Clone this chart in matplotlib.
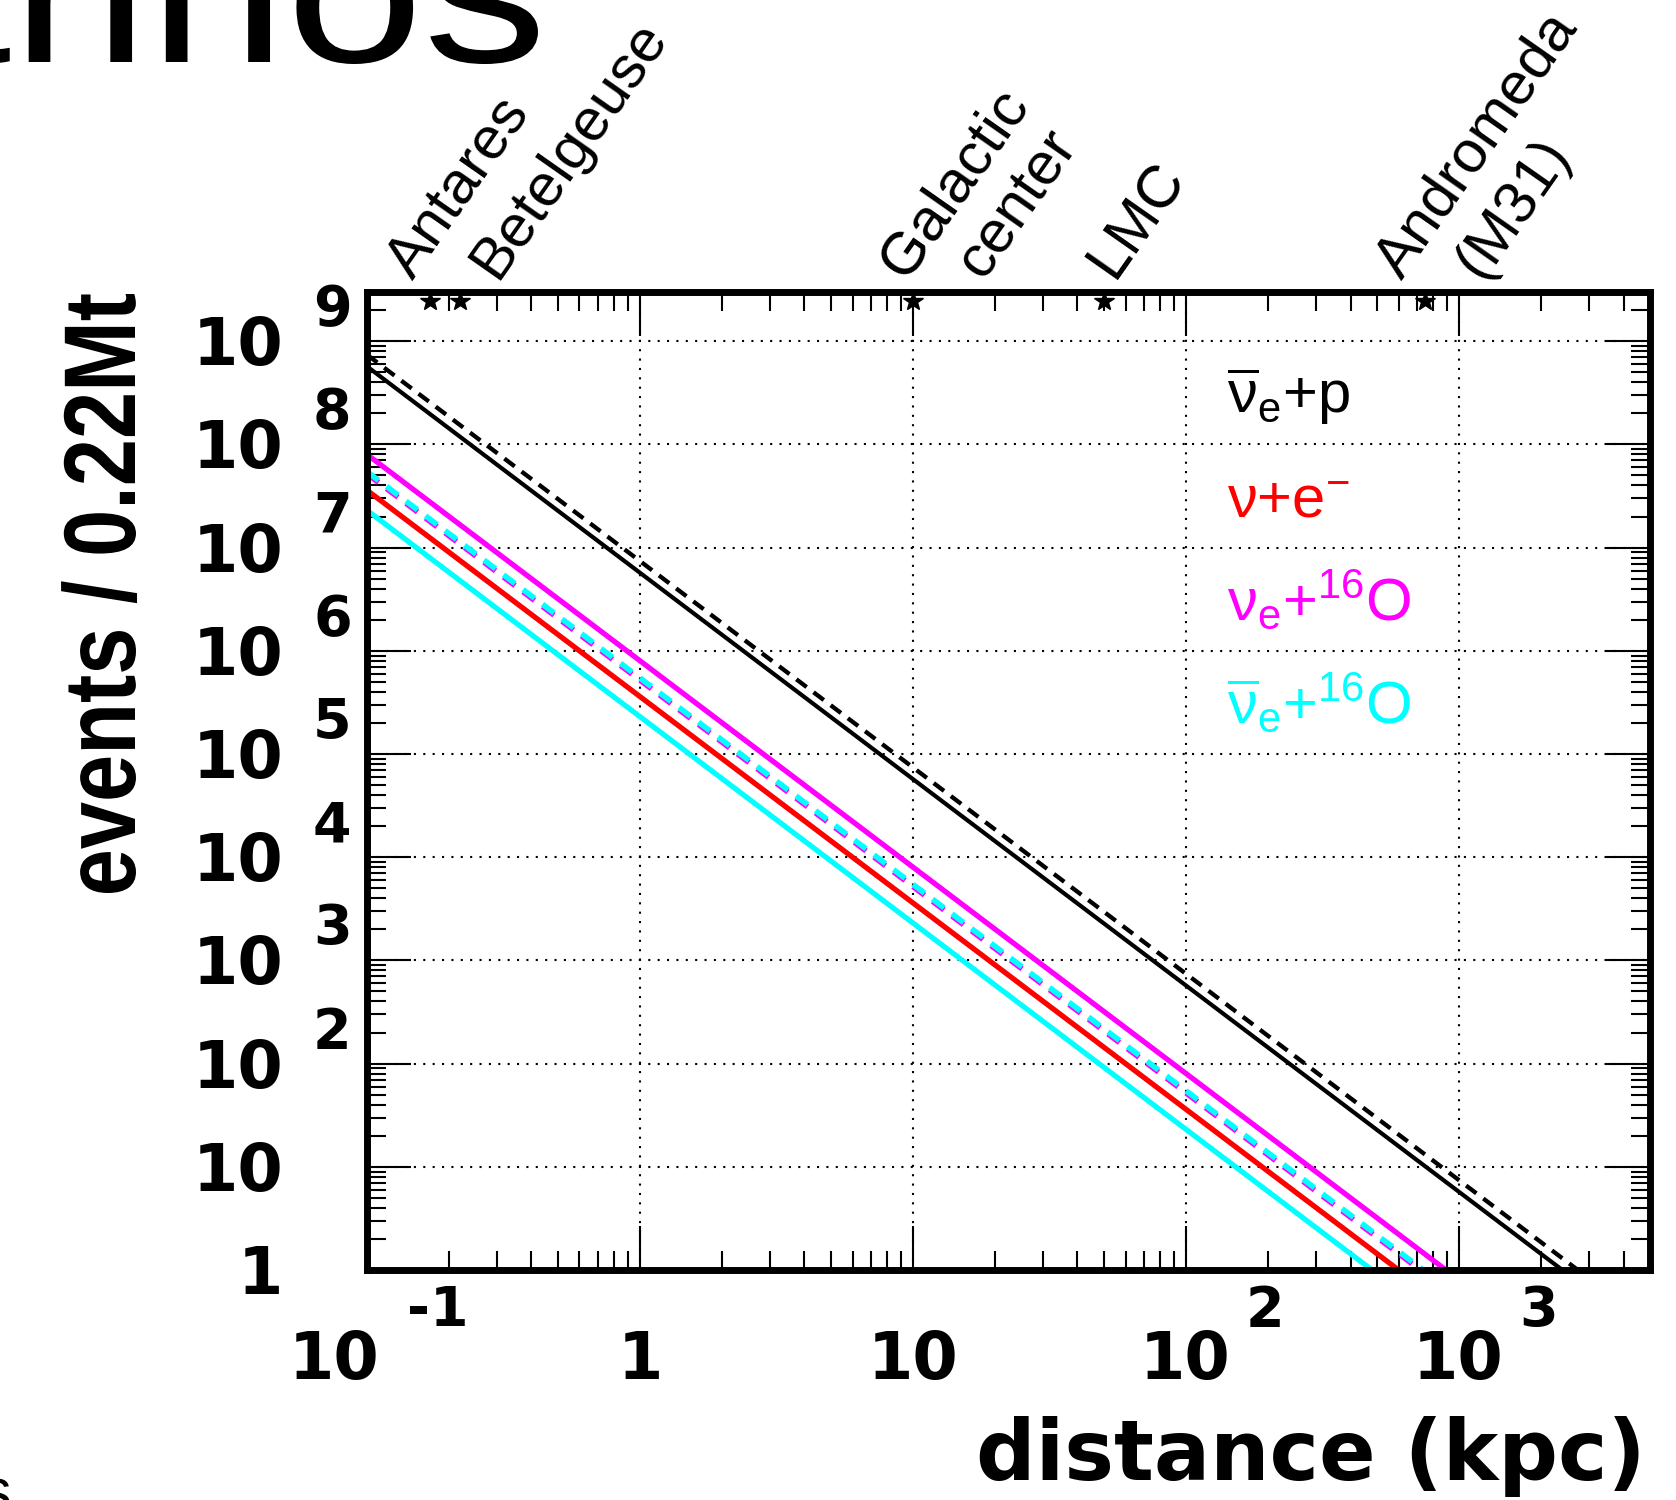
import numpy as np
import matplotlib
matplotlib.use("Agg")
import matplotlib.pyplot as plt
import matplotlib.transforms as mtransforms
from matplotlib.ticker import LogLocator, NullFormatter
from matplotlib.textpath import TextPath
from matplotlib.patches import PathPatch
from matplotlib.font_manager import FontProperties

plt.rcParams['font.family'] = ['Liberation Sans', 'DejaVu Sans']
plt.rcParams['mathtext.fontset'] = 'custom'
plt.rcParams['mathtext.rm'] = 'Liberation Sans'
plt.rcParams['mathtext.it'] = 'Liberation Sans:italic'
plt.rcParams['mathtext.bf'] = 'Liberation Sans:bold'

# distance from the supernova (kpc)
distance = [0.1, 1, 10, 100, 1000, 5000]

# expected events in 0.22 Mt fiducial volume
ibd = [5.7e8, 5.7e6, 5.7e4, 5.7e2, 5.7, 0.228]
ibd_osc = [7.4e8, 7.4e6, 7.4e4, 7.4e2, 7.4, 0.296]
nue_oxygen = [8.0e7, 8.0e5, 8.0e3, 80, 0.8, 0.032]
nue_oxygen_osc = [5.2e7, 5.2e5, 5.2e3, 52, 0.52, 0.0208]
nuebar_oxygen_osc = [5.45e7, 5.45e5, 5.45e3, 54.5, 0.545, 0.0218]
elastic = [3.6e7, 3.6e5, 3.6e3, 36, 0.36, 0.0144]
nuebar_oxygen = [2.3e7, 2.3e5, 2.3e3, 23, 0.23, 0.0092]

# known sources marked on the top axis
source_names = ["Antares", "Betelgeuse", "Galactic\ncenter", "LMC", "Andromeda\n(M31)"]
source_dist = [0.17, 0.22, 10, 50, 750]

legend_labels = [r'$\overline{\mathrm{\nu}}_{\mathrm{e}}\mathrm{{+}p}$',
                 r'$\mathrm{\nu{+}e^{-}}$',
                 r'$\mathrm{\nu_{e}{+}^{16}O}$',
                 r'$\overline{\mathrm{\nu}}_{\mathrm{e}}\mathrm{{+}^{16}O}$']
legend_colors = ['black', 'red', 'magenta', 'cyan']

x_decades = [-1, 0, 1, 2, 3]
y_decades = list(range(10))

W, H = 1676, 1500
fig = plt.figure(figsize=(W / 100, H / 100), dpi=100)
left, right, top, bottom = 367, 1650, 292, 1270
ax = fig.add_axes([left / W, 1 - bottom / H, (right - left) / W, (bottom - top) / H])
ax.set_xscale('log')
ax.set_yscale('log')
ax.set_xlim(0.1, 5000)
ax.set_ylim(1, 3e9)

dash = (3.0, 2.0)
ax.plot(distance, ibd_osc, color='black', lw=3.1, dashes=dash)
ax.plot(distance, ibd, color='black', lw=3.0)
ax.plot(distance, nue_oxygen, color='magenta', lw=3.8)
ax.plot(distance, nue_oxygen_osc, color='magenta', lw=4.0, dashes=(2.6, 1.8))
ax.plot(distance, nuebar_oxygen_osc, color='cyan', lw=4.0, dashes=(2.6, 1.8))
ax.plot(distance, elastic, color='red', lw=3.8)
ax.plot(distance, nuebar_oxygen, color='cyan', lw=3.8)

# ROOT-like frame, ticks and grid
for s in ax.spines.values():
    s.set_linewidth(5)
for axis in (ax.xaxis, ax.yaxis):
    axis.set_major_locator(LogLocator(base=10, numticks=20))
    axis.set_minor_locator(LogLocator(base=10, subs=np.arange(2, 10), numticks=20))
    axis.set_major_formatter(NullFormatter())
    axis.set_minor_formatter(NullFormatter())
ax.tick_params(which='major', direction='in', length=32, width=1.5,
               top=True, right=True)
ax.tick_params(which='minor', direction='in', length=13.5, width=1.5,
               top=True, right=True)
ax.grid(True, which='major', color='black', linestyle=(0, (1, 3.5)), linewidth=1.5)


def shifted(trans, dx, dy):
    return mtransforms.offset_copy(trans, fig=fig, x=dx, y=dy, units='dots')


def path_text(s, prop, sx, sy, x_right, y_base, rotation=0):
    # text outline scaled separately along and across the baseline, in pixels
    tp = TextPath((0, 0), s, size=1, prop=prop)
    ext = tp.get_extents()
    if sx is None:
        sx = sy
    elif sx < 0:
        sx = -sx / (ext.x1 - ext.x0)
    tr = (mtransforms.Affine2D().translate(-ext.x1, 0).scale(sx, sy)
          .rotate_deg(rotation).translate(x_right, H - y_base))
    fig.add_artist(PathPatch(tp, transform=tr, facecolor='black', lw=0))


xtrans = mtransforms.blended_transform_factory(ax.transData, ax.transAxes)
ytrans = mtransforms.blended_transform_factory(ax.transAxes, ax.transData)
tick_font = dict(family='DejaVu Sans', weight='bold')

# y tick labels written as 10 + raised exponent
for k in y_decades:
    v = 10.0 ** k
    base = '1' if k == 0 else '10'
    ax.text(0, v, base, transform=shifted(ytrans, -84, -24), ha='right',
            va='baseline', fontsize=47, **tick_font)
    if k >= 2:
        ax.text(0, v, str(k), transform=shifted(ytrans, -54, 16), ha='left',
                va='baseline', fontsize=40, **tick_font)

# x tick labels
x_shift = {-1: (12, 40), 2: (44, 60), 3: (44, 60)}
for k in x_decades:
    v = 10.0 ** k
    if k in x_shift:
        dx_base, dx_exp = x_shift[k]
        ax.text(v, 0, '10', transform=shifted(xtrans, dx_base, -109), ha='right',
                va='baseline', fontsize=47, **tick_font)
        ax.text(v, 0, str(k), transform=shifted(xtrans, dx_exp, -56), ha='left',
                va='baseline', fontsize=40, **tick_font)
    else:
        base = '1' if k == 0 else '10'
        ax.text(v, 0, base, transform=shifted(xtrans, 0, -109), ha='center',
                va='baseline', fontsize=47, **tick_font)

# sources on the top axis, one rotated text per label line
ax.plot(source_dist, [0.991] * len(source_dist), transform=xtrans, ls='none',
        marker='*', ms=15, color='black', clip_on=False, zorder=2.4)
label_dx = [(-8,), (46,), (2, 80), (20,), (-14, 66)]
for name, d, shifts in zip(source_names, source_dist, label_dx):
    for line, dx in zip(name.split('\n'), shifts):
        ax.text(d, 1, line, transform=shifted(xtrans, dx, 4), rotation=55,
                rotation_mode='anchor', ha='left', va='bottom', fontsize=43)

# channel labels
legend_y = [0.876, 0.769, 0.665, 0.560]
for lab, col, yy in zip(legend_labels, legend_colors, legend_y):
    ax.text(0.670, yy, lab, transform=ax.transAxes, color=col, fontsize=43,
            ha='left', va='baseline')

fig.text(1646 / W, (H - 1480) / H, 'distance (kpc)', ha='right', va='baseline',
         fontsize=60, family='DejaVu Sans', weight='bold')
path_text('events / 0.22Mt', FontProperties(family='Liberation Sans', weight='bold'),
          -599, 102, 135, 294, rotation=90)

# slide title running off the top edge
path_text('Neutrinos', FontProperties(family='Liberation Sans'), 247, 206, 538, 62)
fig.text(11 / W, 1 - 1468 / H, 's', ha='right', va='top', fontsize=44)

fig.savefig('out.png', dpi=100)
